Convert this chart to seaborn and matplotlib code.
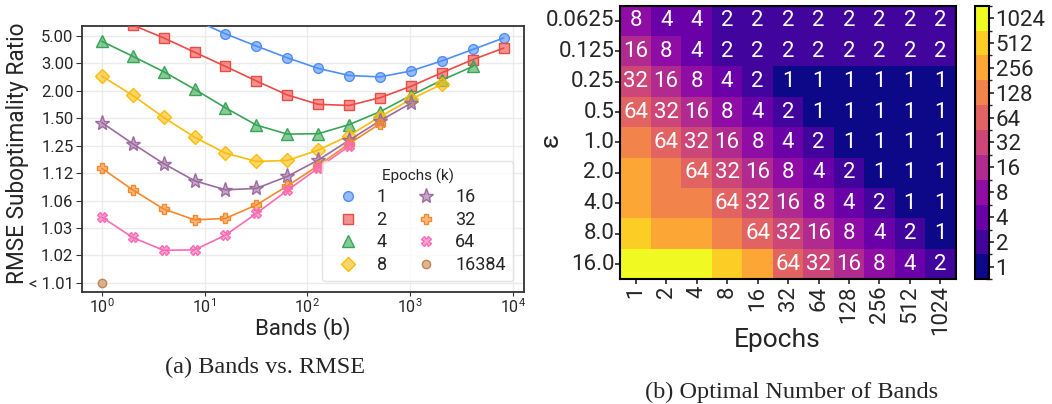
import numpy as np
import pandas as pd
import matplotlib
matplotlib.use('Agg')
import matplotlib.pyplot as plt
import seaborn as sns
from matplotlib.lines import Line2D
from matplotlib.colors import to_rgba

# ---- left panel data: RMSE suboptimality ratio vs number of bands ----
bands_e1 = [8, 16, 32, 64, 128, 256, 512, 1024, 2048, 4096, 8192]
ratio_e1 = [6.98, 5.21, 4.09, 3.30, 2.76, 2.47, 2.42, 2.65, 3.13, 3.84, 4.80]
bands_e2 = [1, 2, 4, 8, 16, 32, 64, 128, 256, 512, 1024, 2048, 4096, 8192]
ratio_e2 = [8.35, 6.26, 4.80, 3.65, 2.85, 2.28, 1.90, 1.71, 1.69, 1.84, 2.12, 2.58, 3.20, 3.94]
bands_e4 = [1, 2, 4, 8, 16, 32, 64, 128, 256, 512, 1024, 2048, 4096]
ratio_e4 = [4.49, 3.39, 2.62, 2.04, 1.65, 1.42, 1.335, 1.338, 1.426, 1.59, 1.89, 2.31, 2.85]
bands_e8 = [1, 2, 4, 8, 16, 32, 64, 128, 256, 512, 1024, 2048]
ratio_e8 = [2.45, 1.89, 1.51, 1.31, 1.207, 1.168, 1.172, 1.224, 1.323, 1.52, 1.81, 2.18]
bands_e16 = [1, 2, 4, 8, 16, 32, 64, 128, 256, 512, 1024]
ratio_e16 = [1.448, 1.263, 1.159, 1.103, 1.082, 1.085, 1.115, 1.174, 1.287, 1.47, 1.73]
bands_e32 = [1, 2, 4, 8, 16, 32, 64, 128, 256, 512]
ratio_e32 = [1.141, 1.082, 1.0505, 1.0384, 1.0398, 1.056, 1.0904, 1.151, 1.263, 1.436]
bands_e64 = [1, 2, 4, 8, 16, 32, 64, 128, 256]
ratio_e64 = [1.0412, 1.0246, 1.0178, 1.018, 1.0261, 1.0452, 1.0808, 1.142, 1.248]
bands_e16384 = [1]
ratio_e16384 = [1.0078]

epoch_names = ['1', '2', '4', '8', '16', '32', '64', '16384']
y_ticks = [1.0078125, 1.015625, 1.03125, 1.0625, 1.125, 1.25, 1.5, 2.0, 3.0, 5.0]

# ---- right panel data: optimal number of bands ----
eps_labels = ['0.0625', '0.125', '0.25', '0.5', '1.0', '2.0', '4.0', '8.0', '16.0']
epoch_labels = ['1', '2', '4', '8', '16', '32', '64', '128', '256', '512', '1024']
opt_bands = [
    [8, 4, 4, 2, 2, 2, 2, 2, 2, 2, 2],
    [16, 8, 4, 2, 2, 2, 2, 2, 2, 2, 2],
    [32, 16, 8, 4, 2, 1, 1, 1, 1, 1, 1],
    [64, 32, 16, 8, 4, 2, 1, 1, 1, 1, 1],
    [128, 64, 32, 16, 8, 4, 2, 1, 1, 1, 1],
    [256, 128, 64, 32, 16, 8, 4, 2, 1, 1, 1],
    [256, 128, 128, 64, 32, 16, 8, 4, 2, 1, 1],
    [512, 256, 256, 128, 64, 32, 16, 8, 4, 2, 1],
    [1024, 1024, 1024, 512, 256, 64, 32, 16, 8, 4, 2],
]

sns.set_style('whitegrid')
plt.rcParams['font.family'] = ['Roboto', 'DejaVu Sans']

series = [
    (bands_e1, ratio_e1, '#4f8ef5', 'o', 7),
    (bands_e2, ratio_e2, '#ec4a44', 's', 7),
    (bands_e4, ratio_e4, '#38a556', '^', 8),
    (bands_e8, ratio_e8, '#fbbc0a', 'D', 7),
    (bands_e16, ratio_e16, '#9d6b9f', '*', 11),
    (bands_e32, ratio_e32, '#f5892a', 'P', 7.5),
    (bands_e64, ratio_e64, '#fb6bb5', 'X', 7),
    (bands_e16384, ratio_e16384, '#c48550', 'o', 6),
]

fig = plt.figure(figsize=(10.52, 4.04), dpi=100)
ax = fig.add_axes([0.0777, 0.2772, 0.4204, 0.6584])

handles = []
for (b, r, c, m, ms), name in zip(series, epoch_names):
    df = pd.DataFrame({'bands': b, 'ratio': r})
    sns.lineplot(data=df, x='bands', y='ratio', ax=ax, color=c, lw=1.2,
                 marker=m, markersize=ms, markerfacecolor=to_rgba(c, 0.6),
                 markeredgecolor=c, markeredgewidth=1.0, zorder=3)
    handles.append(Line2D([], [], ls='none', marker=m, markersize=ms, color=c,
                          markerfacecolor=to_rgba(c, 0.6), markeredgecolor=c,
                          label=name))

ax.set_xscale('log')
ax.set_yscale('function', functions=(lambda y: np.log2(np.maximum(y - 1, 1e-9)),
                                     lambda t: 2.0 ** t + 1))
ax.set_xlim(0.638, 12880)
ax.set_ylim(1.00621, 6.13)
ax.set_yticks(y_ticks)
ax.set_yticklabels(['< 1.01'] + ['%.2f' % v for v in y_ticks[1:]])
ax.minorticks_off()
ax.tick_params(axis='y', labelsize=12, left=True, length=4, color='#333333', pad=2)
ax.tick_params(axis='x', labelsize=11.5, bottom=True, length=3, color='#333333', pad=0.5)
ax.set_xlabel('Bands (b)', fontsize=16)
ax.set_ylabel('RMSE Suboptimality Ratio', fontsize=16.3)
ax.xaxis.set_label_coords(0.5, -0.137)
ax.xaxis.label.set_verticalalignment('center')
ax.yaxis.set_label_coords(-0.146, 0.52)
ax.yaxis.label.set_verticalalignment('center')
ax.grid(True, color='#ebebeb', lw=1.0)
for s in ax.spines.values():
    s.set_color('#333333')
    s.set_linewidth(1.3)
leg = ax.legend(handles=handles, title='Epochs (k)', ncol=2, loc='lower right',
                fontsize=13, title_fontsize=11, frameon=True, borderaxespad=0.6,
                handletextpad=0.6, columnspacing=1.2, labelspacing=0.25)
leg.get_frame().set_edgecolor('#dddddd')

# heatmap
ax2 = fig.add_axes([0.5898, 0.3087, 0.3186, 0.6772])
cax = fig.add_axes([0.9268, 0.3087, 0.0136, 0.6772])
vals = np.array(opt_bands)
labels = np.where(vals <= 64, vals.astype(str), '')
sns.heatmap(np.log2(vals), annot=labels, fmt='', cmap=plt.get_cmap('plasma', 11),
            vmin=-0.5, vmax=10.5, ax=ax2, cbar_ax=cax,
            xticklabels=epoch_labels, yticklabels=eps_labels,
            annot_kws={'color': 'white', 'fontsize': 16})
ax2.set_xlabel('Epochs', fontsize=19)
ax2.set_ylabel('ε', fontsize=19)
ax2.xaxis.set_label_coords(0.467, -0.222)
ax2.xaxis.label.set_verticalalignment('center')
ax2.yaxis.set_label_coords(-0.207, 0.51)
ax2.yaxis.label.set_verticalalignment('center')
ax2.tick_params(axis='both', labelsize=16, direction='inout', length=7, width=1.2,
                left=True, bottom=True, pad=1)
plt.setp(ax2.get_xticklabels(), rotation=90)
plt.setp(ax2.get_yticklabels(), rotation=0)
for s in ax2.spines.values():
    s.set_visible(True)
    s.set_color('black')
    s.set_linewidth(1.5)

cbar = ax2.collections[0].colorbar
cbar.set_ticks(range(11))
cbar.set_ticklabels([str(2 ** k) for k in range(11)])
cbar.ax.set_yticks(np.arange(-0.5, 11, 1), minor=True)
cbar.ax.tick_params(which='major', labelsize=16, direction='inout', length=7, width=1.2, pad=1)
cbar.ax.tick_params(which='minor', direction='inout', length=4, width=1.0)
cbar.outline.set_visible(True)
cbar.outline.set_edgecolor('black')
cbar.outline.set_linewidth(1.5)

fig.text(265 / 1052, 1 - 367 / 404, '(a) Bands vs. RMSE', family='Liberation Serif',
         fontsize=17.5, ha='center', va='center')
fig.text(792 / 1052, 1 - 392 / 404, '(b) Optimal Number of Bands', family='Liberation Serif',
         fontsize=17.5, ha='center', va='center')

fig.savefig('out.png', dpi=100)
